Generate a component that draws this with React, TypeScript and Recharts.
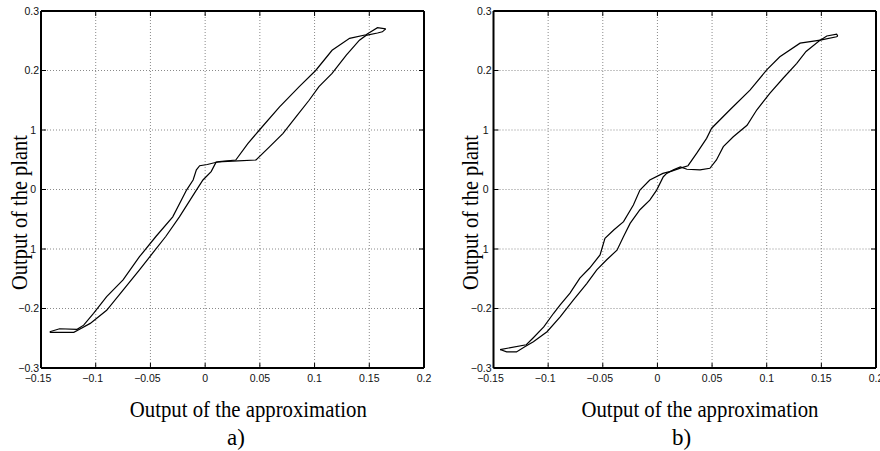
import React from "react";
import { LineChart, Line, XAxis, YAxis, CartesianGrid } from "recharts";

// ---- ticks ----
const X_TICKS = [-0.15, -0.1, -0.05, 0, 0.05, 0.1, 0.15, 0.2];
const X_LABELS = ["−0.15", "−0.1", "−0.05", "0", "0.05", "0.1", "0.15", "0.2"];
const Y_TICKS = [-0.3, -0.2, -0.1, 0, 0.1, 0.2, 0.3];
const Y_LABELS = ["−0.3", "−0.2", "1", "0", "1", "0.2", "0.3"];

// ---- panel a) : rising branch ----
const A_UP_X = [-0.142, -0.133, -0.117, -0.111, -0.102, -0.09, -0.075, -0.06, -0.045, -0.0296, -0.017, -0.011, -0.008, -0.005, 0.002, 0.013, 0.028, 0.039, 0.0496, 0.068, 0.086, 0.101, 0.116, 0.132, 0.147, 0.1575, 0.165];
const A_UP_Y = [-0.239, -0.234, -0.235, -0.228, -0.208, -0.18, -0.152, -0.113, -0.079, -0.046, -0.001, 0.016, 0.033, 0.04, 0.042, 0.047, 0.0496, 0.077, 0.1, 0.139, 0.173, 0.2, 0.234, 0.254, 0.26, 0.272, 0.27];
// ---- panel a) : falling branch ----
const A_DN_X = [0.165, 0.162, 0.1575, 0.147, 0.141, 0.129, 0.116, 0.104, 0.095, 0.083, 0.071, 0.059, 0.0465, 0.03, 0.016, 0.01, 0.0055, -0.002, -0.008, -0.0235, -0.036, -0.048, -0.06, -0.075, -0.09, -0.105, -0.116, -0.12, -0.133, -0.142];
const A_DN_Y = [0.27, 0.265, 0.263, 0.259, 0.251, 0.226, 0.195, 0.173, 0.15, 0.122, 0.094, 0.072, 0.0496, 0.048, 0.047, 0.046, 0.03, 0.016, -0.001, -0.046, -0.079, -0.107, -0.135, -0.169, -0.203, -0.225, -0.236, -0.24, -0.24, -0.24];

// ---- panel b) : rising branch ----
const B_UP_X = [-0.144, -0.12, -0.114, -0.104, -0.095, -0.089, -0.08, -0.071, -0.062, -0.0525, -0.048, -0.04, -0.031, -0.022, -0.016, -0.007, 0.005, 0.013, 0.021, 0.028, 0.036, 0.045, 0.0496, 0.0664, 0.0847, 0.1, 0.112, 0.1305, 0.149, 0.155, 0.164, 0.165];
const B_UP_Y = [-0.269, -0.261, -0.25, -0.231, -0.208, -0.194, -0.174, -0.149, -0.132, -0.11, -0.082, -0.068, -0.054, -0.026, -0.001, 0.016, 0.027, 0.031, 0.036, 0.04, 0.061, 0.086, 0.103, 0.134, 0.167, 0.201, 0.223, 0.246, 0.251, 0.258, 0.261, 0.258];
// ---- panel b) : falling branch ----
const B_DN_X = [0.165, 0.164, 0.149, 0.136, 0.1275, 0.115, 0.103, 0.091, 0.082, 0.0694, 0.0603, 0.054, 0.048, 0.039, 0.027, 0.021, 0.0146, 0.0085, 0.0054, -0.0007, -0.007, -0.016, -0.025, -0.031, -0.037, -0.0464, -0.0555, -0.0647, -0.077, -0.089, -0.101, -0.1135, -0.121, -0.129, -0.138, -0.144];
const B_DN_Y = [0.258, 0.2567, 0.251, 0.232, 0.212, 0.187, 0.162, 0.134, 0.108, 0.0887, 0.072, 0.0496, 0.0356, 0.033, 0.034, 0.038, 0.033, 0.027, 0.0215, -0.001, -0.018, -0.034, -0.057, -0.079, -0.102, -0.118, -0.135, -0.158, -0.186, -0.214, -0.239, -0.256, -0.264, -0.273, -0.273, -0.269];

const zip = (xs: number[], ys: number[]) => xs.map((x, i) => ({ x, y: ys[i] }));

const SANS = "'Liberation Sans', Arial, Helvetica, sans-serif";
const SERIF = "'Liberation Serif', 'Times New Roman', Times, serif";
const TL = 5;

const idx = (arr: number[], v: number) => arr.findIndex((t) => Math.abs(t - v) < 1e-9);

function BottomTick(props: any) {
  const { x, y, payload } = props;
  const label = X_LABELS[idx(X_TICKS, payload.value)] ?? "";
  const neg = label.startsWith("−");
  return (
    <g>
      <line x1={x} x2={x} y1={y} y2={y - TL} stroke="#000" strokeWidth={1} />
      <text x={x + (neg ? -3 : 0)} y={y + 10} dy="0.35em" textAnchor="middle" fontFamily={SANS} fontSize={10.5} fill="#111">
        {label}
      </text>
    </g>
  );
}
function TopTick(props: any) {
  const { x, y } = props;
  return <line x1={x} x2={x} y1={y} y2={y + TL} stroke="#000" strokeWidth={1} />;
}
function LeftTick(props: any) {
  const { x, y, payload } = props;
  const label = Y_LABELS[idx(Y_TICKS, payload.value)] ?? "";
  const gap = label.length === 1 ? 5 : 2;
  return (
    <g>
      <line x1={x} x2={x + TL} y1={y} y2={y} stroke="#000" strokeWidth={1} />
      <text x={x - gap} y={y} dy="0.35em" textAnchor="end" fontFamily={SANS} fontSize={10.5} fill="#111">
        {label}
      </text>
    </g>
  );
}
function RightTick(props: any) {
  const { x, y } = props;
  return <line x1={x} x2={x - TL} y1={y} y2={y} stroke="#000" strokeWidth={1} />;
}

function Panel({ up, dn, margin }: { up: any[]; dn: any[]; margin: any }) {
  const axisLine = { stroke: "#000", strokeWidth: 2 };
  return (
    <LineChart width={440} height={451} margin={margin}>
      <CartesianGrid stroke="#8a8a8a" strokeDasharray="1 2" strokeWidth={1} />
      <XAxis
        xAxisId={0}
        dataKey="x"
        type="number"
        domain={[-0.15, 0.2]}
        ticks={X_TICKS}
        interval={0}
        height={20}
        tickSize={0}
        tickMargin={0}
        tickLine={false}
        axisLine={axisLine}
        tick={(p: any) => <BottomTick {...p} />}
        allowDataOverflow
      />
      <XAxis
        xAxisId="top"
        orientation="top"
        dataKey="x"
        type="number"
        domain={[-0.15, 0.2]}
        ticks={X_TICKS}
        interval={0}
        height={1}
        tickSize={0}
        tickMargin={0}
        tickLine={false}
        axisLine={axisLine}
        tick={(p: any) => <TopTick {...p} />}
        allowDataOverflow
      />
      <YAxis
        yAxisId={0}
        type="number"
        domain={[-0.3, 0.3]}
        ticks={Y_TICKS}
        interval={0}
        width={30}
        tickSize={0}
        tickMargin={0}
        tickLine={false}
        axisLine={axisLine}
        tick={(p: any) => <LeftTick {...p} />}
        allowDataOverflow
      />
      <YAxis
        yAxisId="right"
        orientation="right"
        type="number"
        domain={[-0.3, 0.3]}
        ticks={Y_TICKS}
        interval={0}
        width={1}
        tickSize={0}
        tickMargin={0}
        tickLine={false}
        axisLine={axisLine}
        tick={(p: any) => <RightTick {...p} />}
        allowDataOverflow
      />
      <Line data={up} dataKey="y" type="linear" stroke="#000" strokeWidth={1.2} dot={false} isAnimationActive={false} />
      <Line data={dn} dataKey="y" type="linear" stroke="#000" strokeWidth={1.2} dot={false} isAnimationActive={false} />
    </LineChart>
  );
}

export default function App() {
  const aUp = zip(A_UP_X, A_UP_Y);
  const aDn = zip(A_DN_X, A_DN_Y);
  const bUp = zip(B_UP_X, B_UP_Y);
  const bDn = zip(B_DN_X, B_DN_Y);
  const txt = { fontFamily: SERIF, fontSize: 23, fill: "#000" } as const;
  return (
    <div style={{ position: "absolute", left: 0, top: 0, width: 880, height: 451, background: "#fff", overflow: "hidden" }}>
      <div style={{ position: "absolute", left: 0, top: 0 }}>
        <Panel up={aUp} dn={aDn} margin={{ top: 10, right: 15, bottom: 63, left: 11 }} />
      </div>
      <div style={{ position: "absolute", left: 440, top: 0 }}>
        <Panel up={bUp} dn={bDn} margin={{ top: 10, right: 3, bottom: 63, left: 23.5 }} />
      </div>
      <svg width={880} height={451} style={{ position: "absolute", left: 0, top: 0, pointerEvents: "none" }}>
        <text {...txt} x={26.5} y={212.5} textAnchor="middle" transform="rotate(-90 26.5 212.5)" textLength={155} lengthAdjust="spacingAndGlyphs">
          Output of the plant
        </text>
        <text {...txt} x={477.5} y={212.5} textAnchor="middle" transform="rotate(-90 477.5 212.5)" textLength={155} lengthAdjust="spacingAndGlyphs">
          Output of the plant
        </text>
        <text {...txt} x={248.3} y={417} textAnchor="middle" textLength={237} lengthAdjust="spacingAndGlyphs">
          Output of the approximation
        </text>
        <text {...txt} x={700} y={417} textAnchor="middle" textLength={237} lengthAdjust="spacingAndGlyphs">
          Output of the approximation
        </text>
        <text {...txt} x={236} y={445} textAnchor="middle">
          a)
        </text>
        <text {...txt} x={681.7} y={445} textAnchor="middle">
          b)
        </text>
      </svg>
    </div>
  );
}
